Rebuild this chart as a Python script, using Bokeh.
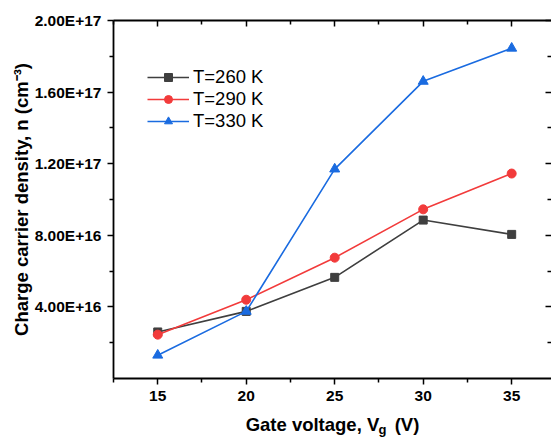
import math
from bokeh.plotting import figure
from bokeh.models import FixedTicker, LinearAxis, Label, Legend, LegendItem, Range1d
from bokeh.embed import file_html
from bokeh.resources import INLINE

# ---- data ----
gate_voltage = [15, 20, 25, 30, 35]
n_260 = [2.6e16, 3.75e16, 5.65e16, 8.85e16, 8.05e16]
n_290 = [2.45e16, 4.4e16, 6.75e16, 9.45e16, 1.145e17]
n_330 = [1.3e16, 3.75e16, 1.17e17, 1.66e17, 1.845e17]
series_labels = ["T=260 K", "T=290 K", "T=330 K"]

x_ticks = [15, 20, 25, 30, 35]
x_minor = [12.5, 17.5, 22.5, 27.5, 32.5, 37.5]
y_ticks = [4e16, 8e16, 1.2e17, 1.6e17, 2e17]
y_tick_labels = ["4.00E+16", "8.00E+16", "1.20E+17", "1.60E+17", "2.00E+17"]
y_minor = [2e16, 6e16, 1e17, 1.4e17, 1.8e17]

x_title_main = "Gate voltage, V\u00a0\u00a0\u00a0(V)"
x_title_sub = "g"
y_title = "Charge carrier density, n (cm\u207b\u00b3)"

FONT = "Liberation Sans"
C_BLACK = "#3f3f3f"
C_RED = "#f23b3b"
C_BLUE = "#1a6be0"

p = figure(width=551, height=438,
           x_range=Range1d(12.5, 37.25), y_range=Range1d(0, 2e17),
           output_backend="svg", toolbar_location=None,
           x_axis_location=None, y_axis_location=None,
           min_border_left=113, min_border_right=0,
           min_border_top=20, min_border_bottom=60)
p.outline_line_color = None
p.background_fill_color = "white"
p.border_fill_color = "white"
for g in p.grid:
    g.visible = False

xt = FixedTicker(ticks=x_ticks, minor_ticks=x_minor)
yt = FixedTicker(ticks=y_ticks, minor_ticks=y_minor)


def style_axis(ax):
    ax.axis_line_width = 1.8
    ax.axis_line_color = "black"
    ax.major_tick_line_width = 1.5
    ax.minor_tick_line_width = 1.5
    ax.major_tick_line_color = "black"
    ax.minor_tick_line_color = "black"
    ax.major_label_text_font = FONT
    ax.major_label_text_font_style = "bold"
    ax.major_label_text_font_size = "15.5px"
    ax.major_label_text_color = "black"
    ax.axis_label_text_font = FONT
    ax.axis_label_text_font_style = "bold"
    ax.axis_label_text_font_size = "18.5px"
    ax.axis_label_text_color = "black"


bottom = LinearAxis(ticker=xt, axis_label=x_title_main)
style_axis(bottom)
bottom.major_tick_out = 6
bottom.major_tick_in = 0
bottom.minor_tick_out = 4
bottom.minor_tick_in = 0
bottom.major_label_standoff = 6
bottom.axis_label_standoff = 10
p.add_layout(bottom, "below")

left = LinearAxis(ticker=yt, axis_label=y_title)
style_axis(left)
left.major_tick_out = 6
left.major_tick_in = 0
left.minor_tick_out = 4
left.minor_tick_in = 0
left.major_label_standoff = 6
left.axis_label_standoff = 0
left.major_label_overrides = {t: s for t, s in zip(y_ticks, y_tick_labels)}
p.add_layout(left, "left")

top = LinearAxis(ticker=xt)
style_axis(top)
top.major_tick_out = 0
top.major_tick_in = 6
top.minor_tick_out = 0
top.minor_tick_in = 4
top.major_label_standoff = 0
top.major_label_text_font_size = "1px"
top.major_label_overrides = {t: "" for t in x_ticks}
p.add_layout(top, "above")

right = LinearAxis(ticker=yt)
style_axis(right)
right.axis_line_color = None
right.major_tick_out = 0
right.major_tick_in = 6
right.minor_tick_out = 0
right.minor_tick_in = 4
right.major_label_standoff = 0
right.major_label_text_font_size = "1px"
right.major_label_overrides = {t: "" for t in y_ticks}
p.add_layout(right, "right")

series = [(n_260, C_BLACK, "square", 8),
          (n_290, C_RED, "circle", 9),
          (n_330, C_BLUE, "triangle", 10)]
items = []
for (vals, col, mk, sz), lab in zip(series, series_labels):
    ln = p.line(gate_voltage, vals, line_color=col, line_width=1.6)
    sc = p.scatter(gate_voltage, vals, marker=mk, size=sz,
                   fill_color=col, line_color=col)
    items.append(LegendItem(label=lab, renderers=[ln, sc]))

legend = Legend(items=items, location=(34, 246),
                border_line_color=None, background_fill_alpha=0,
                glyph_width=42, glyph_height=20, label_height=20,
                label_standoff=4, padding=0, margin=0, spacing=0,
                label_text_font=FONT, label_text_font_size="18.5px",
                label_text_color="black")
p.add_layout(legend)

# subscript "g" of V_g (side-panel label so it is not clipped by the frame)
p.add_layout(Label(x=265, y=-409, text=x_title_sub, text_align="left",
                   text_baseline="alphabetic", text_font_size="13px",
                   x_units="screen", y_units="screen", text_font=FONT,
                   text_font_style="bold", text_color="black"), "above")

open("out.html", "w").write(file_html(p, INLINE))
